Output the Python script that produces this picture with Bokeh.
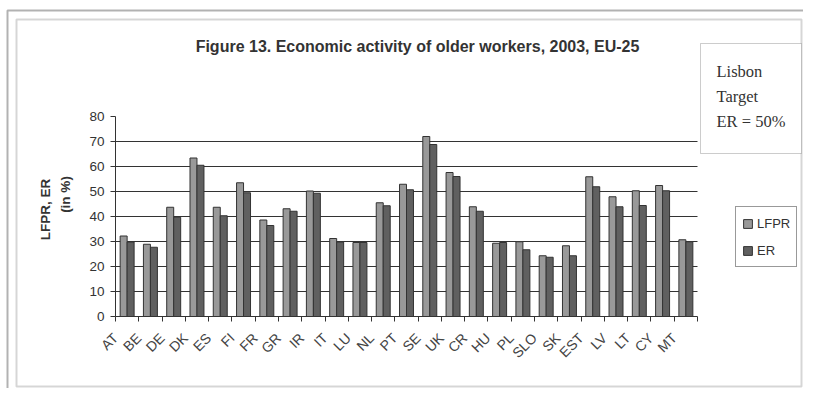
import math
import numpy as np
from bokeh.plotting import figure
from bokeh.models import (ColumnDataSource, FixedTicker, LinearAxis, Range1d, Legend,
                          LegendItem, Label, BoxAnnotation, CustomJSTickFormatter)
from bokeh.transform import dodge
from bokeh.embed import file_html
from bokeh.resources import INLINE

countries = ["AT", "BE", "DE", "DK", "ES", "FI", "FR", "GR", "IR", "IT", "LU", "NL", "PT",
             "SE", "UK", "CR", "HU", "PL", "SLO", "SK", "EST", "LV", "LT", "CY", "MT"]
lfpr = [32.2, 28.9, 43.7, 63.4, 43.7, 53.5, 38.6, 43.1, 50.2, 31.2, 29.6, 45.5, 52.9,
        72.0, 57.6, 43.9, 29.3, 29.9, 24.3, 28.3, 55.9, 47.9, 50.3, 52.4, 30.7]
er = [29.8, 27.7, 39.7, 60.5, 40.3, 49.5, 36.4, 42.1, 49.3, 29.8, 29.6, 44.3, 50.7,
      68.8, 56.0, 42.1, 29.6, 26.7, 23.7, 24.3, 51.9, 43.9, 44.4, 50.3, 29.9]
y_ticks = [0, 10, 20, 30, 40, 50, 60, 70, 80]
grid_vals = [10, 20, 30, 40, 50, 60, 70]

TEXT = "#333333"
n = len(countries)
W, H = 803, 388
# plot area in canvas pixels
PL, PR, PT, PB = 115, 697, 116, 316
ymax = y_ticks[-1]
sx = (PR - PL) / n
sy = (PB - PT) / ymax
x_range = Range1d(-PL / sx, (W - PL) / sx)
y_range = Range1d(-(H - PB) / sy, PB / sy)
LABEL_SHIFT = -0.5  # where the rotated names sit relative to the category centre

src = ColumnDataSource(dict(xc=np.arange(n) + 0.5, lfpr=lfpr, er=er, name=countries))
gsrc = ColumnDataSource(dict(y=grid_vals, x0=[0] * len(grid_vals), x1=[n] * len(grid_vals)))

p = figure(width=W, height=H, output_backend="svg", toolbar_location=None,
           x_range=x_range, y_range=y_range,
           x_axis_location=None, y_axis_location=None, min_border=0)
p.outline_line_color = None
p.background_fill_color = "white"
p.border_fill_color = "white"
p.grid.visible = False

p.segment(x0="x0", x1="x1", y0="y", y1="y", source=gsrc, line_color="#333333", line_width=1)

r1 = p.vbar(x=dodge("xc", -0.15, range=p.x_range), top="lfpr", width=0.3, source=src,
            fill_color="#999999", line_color="#333333", line_width=1)
r2 = p.vbar(x=dodge("xc", 0.15, range=p.x_range), top="er", width=0.3, source=src,
            fill_color="#606060", line_color="#333333", line_width=1)

# y axis
yax = LinearAxis(ticker=FixedTicker(ticks=y_ticks, minor_ticks=[]), fixed_location=0,
                 bounds=(0, ymax))
yax.axis_line_color = "#333333"
yax.major_tick_line_color = "#333333"
yax.major_tick_in = 0
yax.major_tick_out = 5
yax.major_label_text_font = "Liberation Sans"
yax.major_label_text_font_size = "13.5px"
yax.major_label_text_color = TEXT
yax.major_label_standoff = 6
p.add_layout(yax, "left")

# x axis: names near category centres, tick marks at category boundaries
xax = LinearAxis(ticker=FixedTicker(ticks=list(np.arange(n) + 0.5 + LABEL_SHIFT),
                                    minor_ticks=list(range(n + 1))),
                 formatter=CustomJSTickFormatter(args=dict(names=countries, shift=0.5 + LABEL_SHIFT),
                                                 code="return names[Math.round(tick - shift)] || ''"),
                 fixed_location=0, bounds=(0, n))
xax.axis_line_color = "#333333"
xax.major_tick_in = 0
xax.major_tick_out = 0
xax.major_tick_line_color = None
xax.minor_tick_in = 0
xax.minor_tick_out = 5
xax.minor_tick_line_color = "#333333"
xax.major_label_orientation = math.pi / 4
xax.major_label_text_font = "Liberation Sans"
xax.major_label_text_font_size = "14px"
xax.major_label_text_color = "#444444"
xax.major_label_standoff = 14
p.add_layout(xax, "below")

# frames (screen units, y measured from the bottom)
def box(left, top, right, bottom, **kw):
    return BoxAnnotation(left=left, top=H - top, right=right, bottom=H - bottom,
                         left_units="screen", right_units="screen",
                         top_units="screen", bottom_units="screen", **kw)

p.add_layout(box(7, 10, W + 200, H + 200, fill_alpha=0, line_color="black", line_width=2))
p.add_layout(box(16, 19, 801, 386, fill_alpha=0, line_color="#777777", line_width=2))
p.add_layout(box(700, 43, 801, 153, fill_color="white", fill_alpha=1,
                 line_color="#555555", line_width=1))

legend = Legend(items=[LegendItem(label="LFPR", renderers=[r1]),
                       LegendItem(label="ER", renderers=[r2])],
                location=(735, H - 267))
legend.border_line_color = "#333333"
legend.border_line_width = 1
legend.background_fill_color = "white"
legend.label_text_font = "Liberation Sans"
legend.label_text_font_size = "13px"
legend.label_text_color = TEXT
legend.glyph_width = 11
legend.glyph_height = 11
legend.label_height = 20
legend.label_standoff = 4
legend.spacing = 7
legend.padding = 6
legend.margin = 0
p.add_layout(legend, "center")

# texts
p.add_layout(Label(x=417, y=H - 46, x_units="screen", y_units="screen",
                   text="Figure 13. Economic activity of older workers, 2003, EU-25",
                   text_font="Liberation Sans", text_font_style="bold", text_font_size="16px",
                   text_color=TEXT, text_align="center", text_baseline="middle"))
for txt, yy in [("Lisbon", 71), ("Target", 96), ("ER = 50%", 121)]:
    p.add_layout(Label(x=716, y=H - yy, x_units="screen", y_units="screen", text=txt,
                       text_font="Liberation Serif", text_font_size="16.5px", text_color=TEXT,
                       text_align="left", text_baseline="alphabetic"))
p.add_layout(Label(x=45, y=H - 209, x_units="screen", y_units="screen", text="LFPR, ER",
                   angle=math.pi / 2, text_font="Liberation Sans", text_font_style="bold",
                   text_font_size="13.5px", text_color=TEXT, text_align="center", text_baseline="middle"))
p.add_layout(Label(x=65, y=H - 194, x_units="screen", y_units="screen", text="(in %)",
                   angle=math.pi / 2, text_font="Liberation Sans", text_font_style="bold",
                   text_font_size="13.5px", text_color=TEXT, text_align="center", text_baseline="middle"))

open("out.html", "w").write(file_html(p, INLINE))
